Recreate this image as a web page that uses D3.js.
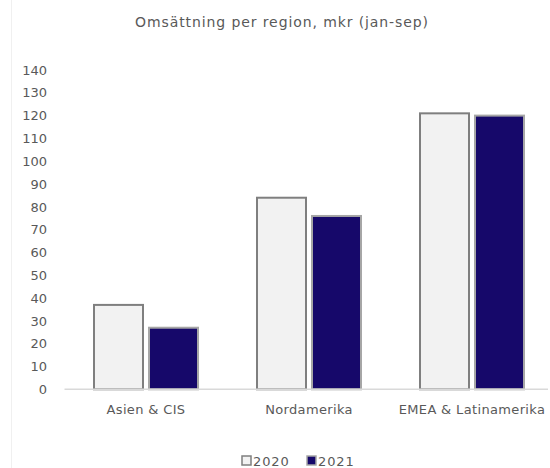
<!DOCTYPE html>
<html>
<head>
<meta charset="utf-8">
<script src="https://cdn.jsdelivr.net/npm/d3@7"></script>
<style>
  html, body { margin: 0; padding: 0; background: #fff; }
  svg { display: block; font-family: "DejaVu Sans", Verdana, sans-serif; }
</style>
</head>
<body>
<svg id="chart" width="550" height="468"></svg>
<script>
const categories = ["Asien & CIS", "Nordamerika", "EMEA & Latinamerika"];
const seriesNames = ["2020", "2021"];
const values2020 = [37, 84, 121];
const values2021 = [27, 76, 120];
const yTicks = [0, 10, 20, 30, 40, 50, 60, 70, 80, 90, 100, 110, 120, 130, 140];

const fills = { "2020": "#f2f2f2", "2021": "#16086a" };
const strokes = { "2020": "#7f7f7f", "2021": "#a6a6a6" };
const textColor = "#595959";

const svg = d3.select("#chart");

// faint frame line on the left
svg.append("line")
  .attr("x1", 11.5).attr("x2", 11.5).attr("y1", 0).attr("y2", 468)
  .attr("stroke", "#f0f0f0").attr("stroke-width", 1);

svg.append("text")
  .attr("x", 282).attr("y", 27)
  .attr("text-anchor", "middle")
  .attr("fill", textColor)
  .attr("font-size", 14)
  .attr("letter-spacing", 0.9)
  .text("Omsättning per region, mkr (jan-sep)");

const y = d3.scaleLinear().domain([0, 140]).range([389.3, 70]);
const x0 = d3.scaleBand().domain(categories).range([64.5, 553.5])
  .paddingInner(0.362).paddingOuter(0.181);
const x1 = d3.scaleBand().domain(seriesNames).range([0, x0.bandwidth()])
  .paddingInner(0.109);

// y axis labels (no line, no ticks)
const yAxis = d3.axisLeft(y).tickValues(yTicks).tickSize(0).tickPadding(0);
const gy = svg.append("g").attr("transform", "translate(47,0)").call(yAxis);
gy.select(".domain").remove();
gy.selectAll("text").attr("fill", textColor).attr("font-size", 13)
  .attr("font-family", "DejaVu Sans, sans-serif");

const rows = categories.map((c, i) => ({ cat: c, vals: [
  { s: "2020", v: values2020[i] }, { s: "2021", v: values2021[i] }] }));

const groups = svg.append("g").selectAll("g").data(rows).join("g")
  .attr("transform", d => `translate(${x0(d.cat)},0)`);

groups.selectAll("rect").data(d => d.vals).join("rect")
  .attr("x", d => x1(d.s))
  .attr("width", x1.bandwidth())
  .attr("y", d => y(d.v))
  .attr("height", d => y(0) - y(d.v))
  .attr("fill", d => fills[d.s])
  .attr("stroke", d => strokes[d.s])
  .attr("stroke-width", 2);

// x axis baseline and category labels
const xAxis = d3.axisBottom(x0).tickSize(0).tickPadding(15);
const gx = svg.append("g").attr("transform", `translate(0,${y(0)})`).call(xAxis);
gx.select(".domain").attr("stroke", "#d9d9d9").attr("stroke-width", 1.5)
  .attr("d", `M64.5,0H548`);
gx.selectAll("text").attr("fill", textColor).attr("font-size", 13)
  .attr("letter-spacing", 0.35)
  .attr("font-family", "DejaVu Sans, sans-serif");

// legend
const legendX = [242, 307];
const legend = svg.append("g").selectAll("g").data(seriesNames).join("g")
  .attr("transform", (d, i) => `translate(${legendX[i]},456)`);
legend.append("rect")
  .attr("width", 9).attr("height", 9)
  .attr("fill", d => fills[d]).attr("stroke", d => strokes[d]).attr("stroke-width", 1.5);
legend.append("text")
  .attr("x", 11).attr("y", 9.5)
  .attr("fill", textColor).attr("font-size", 13)
  .attr("letter-spacing", 0.9)
  .text(d => d);
</script>
</body>
</html>
